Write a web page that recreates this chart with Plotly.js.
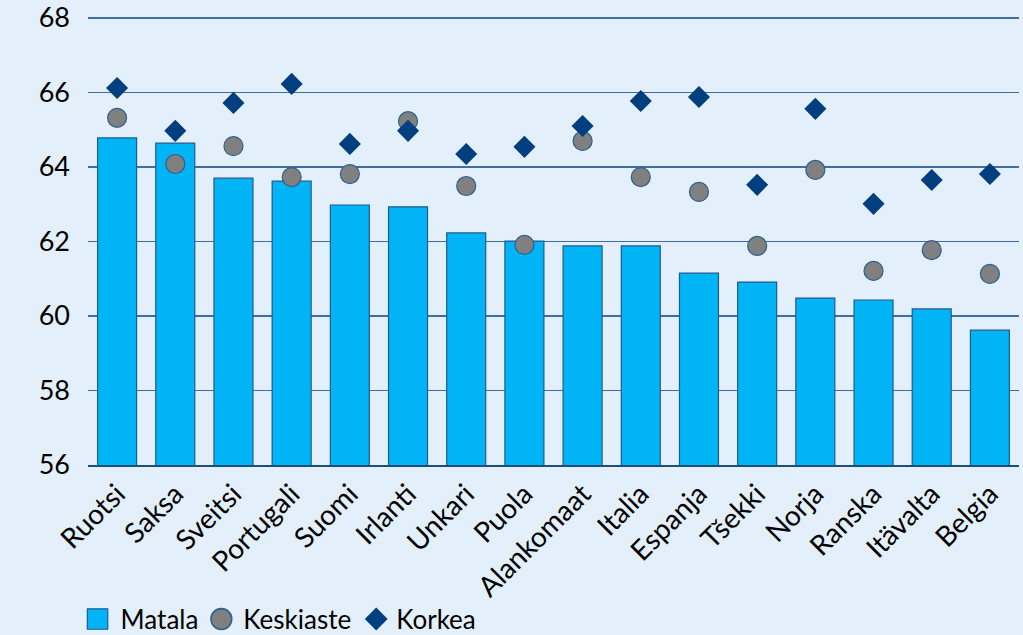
<!DOCTYPE html>
<html>
<head>
<meta charset="utf-8">
<script src="https://cdn.plot.ly/plotly-3.0.1.min.js"></script>
<style>html,body{margin:0;padding:0;background:#E3F0FB;}</style>
</head>
<body>
<div id="chart" style="width:1023px;height:635px;"></div>
<script>
const categories = ["Ruotsi","Saksa","Sveitsi","Portugali","Suomi","Irlanti","Unkari","Puola","Alankomaat","Italia","Espanja","Tšekki","Norja","Ranska","Itävalta","Belgia"];
const matala = [64.78,64.64,63.70,63.62,62.98,62.93,62.23,62.01,61.88,61.88,61.15,60.91,60.48,60.43,60.19,59.62];
const keskiaste = [65.32,64.08,64.56,63.73,63.81,65.23,63.49,61.91,64.70,63.73,63.33,61.88,63.92,61.21,61.77,61.13];
const korkea = [66.12,64.97,65.72,66.23,64.62,64.97,64.35,64.54,65.10,65.77,65.88,63.52,65.56,63.01,63.65,63.81];
const yTicks = [56,58,60,62,64,66,68];

const fam = "Lato, Open Sans, sans-serif";
const traces = [
  {type:"bar", name:"Matala", x:categories, y:matala, base:0,
   marker:{color:"#00B4F5", line:{color:"#1F5A96", width:1.2}}},
  {type:"scatter", mode:"markers", name:"Keskiaste", x:categories, y:keskiaste,
   marker:{symbol:"circle", size:19, color:"#808080", line:{color:"#2F5F8F", width:1.2}}},
  {type:"scatter", mode:"markers", name:"Korkea", x:categories, y:korkea,
   marker:{symbol:"diamond", size:17, color:"#003F7F", line:{color:"#003F7F", width:0}}}
];
const layout = {
  width:1023, height:635,
  paper_bgcolor:"#E3F0FB", plot_bgcolor:"#E3F0FB",
  margin:{l:88, r:4, t:15, b:170, autoexpand:false},
  font: {family:fam, size:24, color:"#000"},
  bargap:0.33,
  showlegend:true,
  legend:{orientation:"h", x:-0.008, xanchor:"left", yref:"container", y:0.025, yanchor:"middle",
          font:{family:fam, size:26, color:"#000"}, bgcolor:"rgba(0,0,0,0)", itemwidth:30, tracegroupgap:0},
  xaxis:{type:"category", range:[-0.5,15.5], tickangle:-45, showgrid:false, showline:true, linecolor:"#1F4E79", linewidth:1.5,
         ticks:"", automargin:false, tickfont:{family:fam, size:28, color:"#000"}},
  yaxis:{range:[56,68.08], tickvals:yTicks, ticktext:yTicks.map(String), showgrid:true, gridcolor:"#3F6F9F", gridwidth:1.3,
         zeroline:false, showline:false, ticks:"", ticklen:0, ticklabelstandoff:17, automargin:false,
         tickfont:{family:fam, size:27, color:"#000"}}
};
Plotly.newPlot("chart", traces, layout, {displayModeBar:false, staticPlot:true}).then(function(gd){
  const scales = [1.7, 1.3, 1.1];
  const shifts = [-3, -2, 0];
  const items = gd.querySelectorAll('.legend .traces');
  items.forEach(function(item, i){
    const s = scales[i] || 1;
    item.querySelectorAll('.legendpoints path').forEach(function(p){
      const t = p.getAttribute('transform') || '';
      p.setAttribute('transform', t + ' translate(' + (shifts[i] || 0) + ',0) scale(' + s + ')');
      if (i === 0) p.style.strokeWidth = '0.7px';
    });
  });
});
</script>
</body>
</html>
